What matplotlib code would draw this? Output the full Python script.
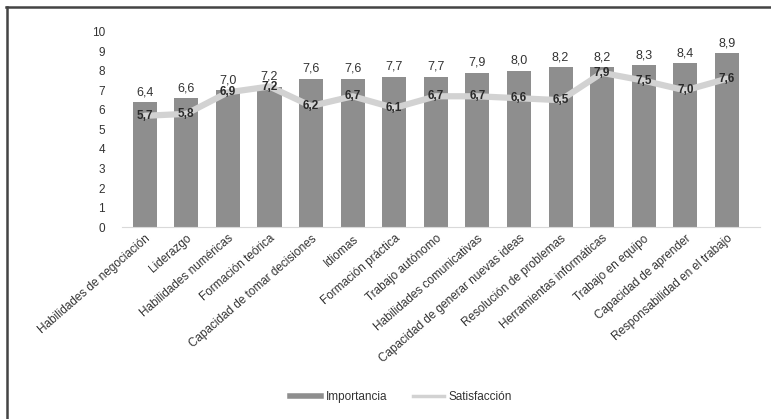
import matplotlib.pyplot as plt
from matplotlib.lines import Line2D
import numpy as np

plt.rcParams['font.family'] = ['Liberation Sans', 'DejaVu Sans']

competencias = [
    "Habilidades de negociación", "Liderazgo", "Habilidades numéricas",
    "Formación teórica", "Capacidad de tomar decisiones", "Idiomas",
    "Formación práctica", "Trabajo autónomo", "Habilidades comunicativas",
    "Capacidad de generar nuevas ideas", "Resolución de problemas",
    "Herramientas informáticas", "Trabajo en equipo", "Capacidad de aprender",
    "Responsabilidad en el trabajo",
]
importancia = [6.4, 6.6, 7.0, 7.2, 7.6, 7.6, 7.7, 7.7, 7.9, 8.0, 8.2, 8.2, 8.3, 8.4, 8.9]
satisfaccion = [5.7, 5.8, 6.9, 7.2, 6.2, 6.7, 6.1, 6.7, 6.7, 6.6, 6.5, 7.9, 7.5, 7.0, 7.6]

bar_color = "#8e8e8e"
line_color = "#d2d2d2"

fig = plt.figure(figsize=(7.71, 4.19), dpi=100)
ax = fig.add_axes([0.158, 0.458, 0.828, 0.466])

x = np.arange(len(competencias))
ax.bar(x, importancia, width=0.58, color=bar_color, zorder=2)
ax.plot(x, satisfaccion, color=line_color, lw=4.5, zorder=3, solid_capstyle="round")

def fmt(v):
    return f"{v:.1f}".replace(".", ",")

for xi, v in zip(x, importancia):
    ax.text(xi, v + 0.2, fmt(v), ha="center", va="bottom", fontsize=9, color="#333333")
for xi, v in zip(x, satisfaccion):
    ax.text(xi, v, fmt(v), ha="center", va="center", fontsize=8.5,
            fontweight="bold", color="#2a2a2a", zorder=4)

ax.set_xlim(-0.55, 14.8)
ax.set_ylim(0, 10)
ax.set_yticks(range(0, 11))
ax.set_xticks(x)
ax.set_xticklabels(competencias, rotation=41, ha="right", rotation_mode="anchor",
                   fontsize=8.5, color="#333333")
ax.tick_params(axis="y", length=0, pad=12, labelsize=8.5, labelcolor="#333333")
ax.tick_params(axis="x", length=0, pad=4)
for side in ("top", "right", "left"):
    ax.spines[side].set_visible(False)
ax.spines["bottom"].set_color("#d9d9d9")

handles = [Line2D([], [], color=bar_color, lw=4),
           Line2D([], [], color=line_color, lw=2.5)]
fig.legend(handles, ["Importancia", "Satisfacción"], loc="center",
           bbox_to_anchor=(0.52, 0.052), ncol=2, frameon=False, fontsize=8.5,
           handlelength=2.6, handletextpad=0.4, columnspacing=2.2,
           labelcolor="#333333")

# outer frame: top and left edges
fig.add_artist(Line2D([0.008, 1.0], [0.983, 0.983], color="#444444", lw=1.8,
                      transform=fig.transFigure))
fig.add_artist(Line2D([0.009, 0.009], [0.0, 0.983], color="#444444", lw=1.8,
                      transform=fig.transFigure))

fig.savefig("out.png", dpi=100)
